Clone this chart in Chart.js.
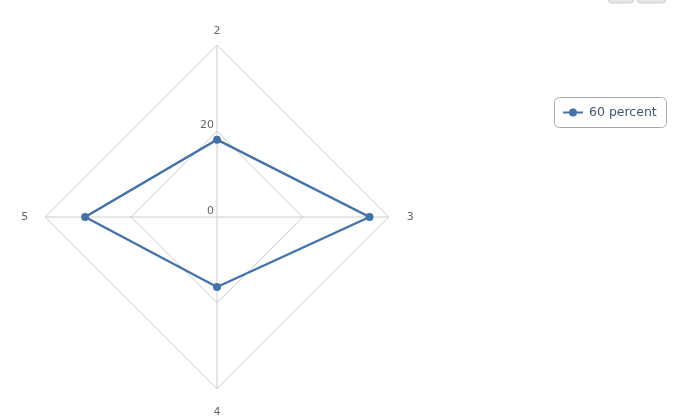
<!DOCTYPE html>
<html>
<head>
<meta charset="utf-8">
<script src="https://cdn.jsdelivr.net/npm/chart.js@4.4.0/dist/chart.umd.min.js"></script>
<style>
html,body{margin:0;padding:0;background:#fff;overflow:hidden;width:677px;height:418px}
#wrap{position:relative;width:677px;height:418px;overflow:hidden}
</style>
</head>
<body>
<div id="wrap"><canvas id="c" width="677" height="424"></canvas></div>
<script>
// ---- data ----
const categories = ['2', '3', '4', '5'];
const seriesName = '60 percent';
const seriesValues = [18, 35.5, 16.3, 30.7];
const radialTicks = [0, 20, 40];
const shownTickLabels = ['0', '20'];

const seriesColor = '#4572A7';
const gridColor = '#cccccc';

const decor = {
  id: 'decor',
  afterDraw(chart) {
    const ctx = chart.ctx;
    const r = chart.scales.r;
    ctx.save();
    // radial tick labels (left of the vertical axis line, like the original)
    ctx.font = '11px "DejaVu Sans"';
    ctx.fillStyle = '#666666';
    ctx.textAlign = 'right';
    ctx.textBaseline = 'middle';
    r.ticks.forEach((t) => {
      const lbl = String(t.value);
      if (!shownTickLabels.includes(lbl)) return;
      const d = r.getDistanceFromCenterForValue(t.value);
      ctx.fillText(lbl, r.xCenter - 3, r.yCenter - d - 6);
    });

    // export buttons (mostly cut off at the top)
    ctx.fillStyle = '#e6e6e6';
    ctx.strokeStyle = '#cccccc';
    ctx.lineWidth = 1;
    [[608.5, 25], [637.5, 28]].forEach(([x, w]) => {
      ctx.beginPath();
      ctx.roundRect(x, -20.5, w, 23.5, 3);
      ctx.fill();
      ctx.stroke();
    });

    // legend
    const ds = chart.data.datasets[0];
    ctx.fillStyle = '#ffffff';
    ctx.strokeStyle = '#a8a8a8';
    ctx.beginPath();
    ctx.roundRect(554.5, 97.5, 112, 30, 5);
    ctx.fill();
    ctx.stroke();
    ctx.strokeStyle = ds.borderColor;
    ctx.lineWidth = 2;
    ctx.beginPath();
    ctx.moveTo(563, 112.5);
    ctx.lineTo(583, 112.5);
    ctx.stroke();
    ctx.fillStyle = ds.borderColor;
    ctx.beginPath();
    ctx.arc(573, 112.5, 4, 0, Math.PI * 2);
    ctx.fill();
    ctx.font = '12.5px "DejaVu Sans"';
    ctx.fillStyle = '#3E576F';
    ctx.textAlign = 'left';
    ctx.textBaseline = 'middle';
    ctx.fillText(ds.label, 589, 112.5);
    ctx.restore();
  }
};

new Chart(document.getElementById('c'), {
  type: 'radar',
  data: {
    labels: categories,
    datasets: [{
      label: seriesName,
      data: seriesValues,
      borderColor: seriesColor,
      backgroundColor: seriesColor,
      borderWidth: 2.4,
      fill: false,
      tension: 0,
      pointRadius: 4,
      pointHoverRadius: 4,
      pointBackgroundColor: seriesColor,
      pointBorderColor: seriesColor,
      pointBorderWidth: 0
    }]
  },
  options: {
    responsive: false,
    animation: false,
    devicePixelRatio: 1,
    layout: { padding: { left: 16, top: 20, right: 257, bottom: 0 } },
    plugins: {
      legend: { display: false },
      title: { display: false },
      tooltip: { enabled: false }
    },
    scales: {
      r: {
        min: radialTicks[0],
        max: radialTicks[radialTicks.length - 1],
        startAngle: 0,
        afterBuildTicks: (s) => { s.ticks = radialTicks.map(v => ({ value: v })); },
        ticks: { display: false, stepSize: radialTicks[1] - radialTicks[0] },
        grid: { color: gridColor, lineWidth: 1 },
        angleLines: { color: gridColor, lineWidth: 1 },
        pointLabels: {
          display: true,
          color: '#666666',
          font: { family: '"DejaVu Sans"', size: 11 },
          padding: (c) => [7, 18, 17, 17][c.index]
        }
      }
    }
  },
  plugins: [decor]
});
</script>
</body>
</html>
